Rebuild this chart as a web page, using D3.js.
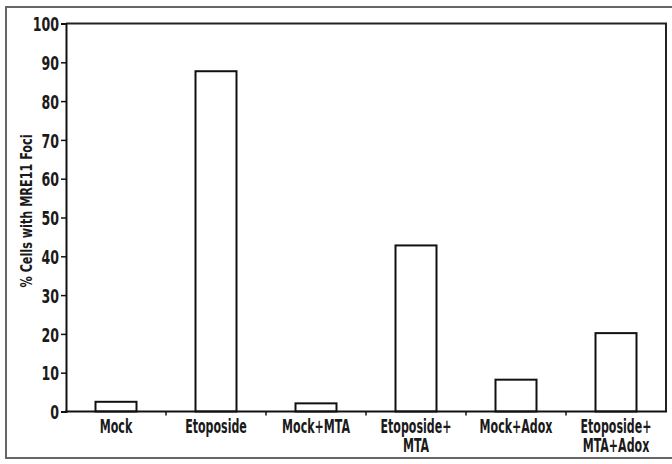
<!DOCTYPE html>
<html>
<head>
<meta charset="utf-8">
<script src="https://cdn.jsdelivr.net/npm/d3@7"></script>
<style>
  body { margin: 0; background: #fff; }
  text { font-family: "Liberation Sans Narrow", "DejaVu Sans Condensed", sans-serif; font-weight: bold; fill: #1a1a1a; }
</style>
</head>
<body>
<div id="chart"></div>
<script>
// DATA
const categories = ["Mock", "Etoposide", "Mock+MTA", "Etoposide+MTA", "Mock+Adox", "Etoposide+MTA+Adox"];
const labelLines = [["Mock"], ["Etoposide"], ["Mock+MTA"], ["Etoposide+", "MTA"], ["Mock+Adox"], ["Etoposide+", "MTA+Adox"]];
const values = [2.5, 87.7, 2.1, 42.8, 8.2, 20.2];
const yTicks = [0, 10, 20, 30, 40, 50, 60, 70, 80, 90, 100];
const yLabel = "% Cells with MRE11 Foci";

// CHART AREA
let margin = {top: 23.5, right: 6, bottom: 52.5, left: 66},
    width = 672 - margin.left - margin.right,
    height = 464 - margin.top - margin.bottom;

let root = d3.select("#chart").append("svg")
    .attr("width", 672)
    .attr("height", 464);

// outer frame
root.append("rect")
    .attr("x", 6).attr("y", 7)
    .attr("width", 700).attr("height", 451)
    .attr("fill", "none")
    .attr("stroke", "#666")
    .attr("stroke-width", 2);

let svg = root.append("g")
    .attr("transform", "translate(" + margin.left + "," + margin.top + ")");

// SCALES
let x = d3.scaleBand()
    .domain(categories)
    .range([0, width]);

let y = d3.scaleLinear()
    .domain([0, 100])
    .range([height, 0]);

let barW = x.bandwidth() * 0.41;

// plot box top + right
svg.append("path")
    .attr("d", "M0,0H" + width + "V" + height)
    .attr("fill", "none")
    .attr("stroke", "#222")
    .attr("stroke-width", 2);

// BARS
svg.selectAll(".bar")
    .data(values)
    .enter()
    .append("rect")
    .attr("class", "bar")
    .attr("x", (d, i) => x(categories[i]) + (x.bandwidth() - barW) / 2)
    .attr("y", d => y(d))
    .attr("width", barW)
    .attr("height", d => height - y(d))
    .attr("fill", "#fff")
    .attr("stroke", "#111")
    .attr("stroke-width", 2);

// Y AXIS
let yAxis = d3.axisLeft(y)
    .tickValues(yTicks)
    .tickSize(5)
    .tickPadding(7);

let yAxisGroup = svg.append("g")
    .attr("class", "y-axis axis")
    .call(yAxis);

yAxisGroup.select(".domain").attr("stroke", "#111").attr("stroke-width", 2);
yAxisGroup.selectAll(".tick line").attr("stroke", "#111").attr("stroke-width", 1.5);
yAxisGroup.selectAll(".tick text")
    .attr("x", 0)
    .attr("dy", "0.36em")
    .attr("font-size", 20)
    .attr("transform", "translate(-7,0) scale(0.7,1)");

// X AXIS
let xAxisGroup = svg.append("g")
    .attr("class", "x-axis axis")
    .attr("transform", "translate(0," + height + ")");

xAxisGroup.append("line")
    .attr("x1", -1).attr("x2", width + 1)
    .attr("stroke", "#111")
    .attr("stroke-width", 2);

// boundary ticks between categories
xAxisGroup.selectAll(".xtick")
    .data(categories.slice(1))
    .enter()
    .append("line")
    .attr("class", "xtick")
    .attr("x1", d => x(d)).attr("x2", d => x(d))
    .attr("y1", 0).attr("y2", 4)
    .attr("stroke", "#111")
    .attr("stroke-width", 1.5);

let xLabels = xAxisGroup.selectAll(".xlabel")
    .data(labelLines)
    .enter()
    .append("text")
    .attr("class", "xlabel")
    .attr("text-anchor", "middle")
    .attr("font-size", 19.5)
    .attr("transform", (d, i) => "translate(" + (x(categories[i]) + x.bandwidth() / 2) + ",21) scale(0.63,1)");

xLabels.selectAll("tspan")
    .data(d => d)
    .enter()
    .append("tspan")
    .attr("x", 0)
    .attr("y", (d, i) => i * 20)
    .text(d => d);

// Y LABEL
svg.append("text")
    .attr("text-anchor", "middle")
    .attr("font-size", 16)
    .attr("textLength", 153)
    .attr("lengthAdjust", "spacingAndGlyphs")
    .attr("transform", "translate(" + (32 - margin.left) + "," + (211 - margin.top) + ") rotate(-90)")
    .text(yLabel);
</script>
</body>
</html>
